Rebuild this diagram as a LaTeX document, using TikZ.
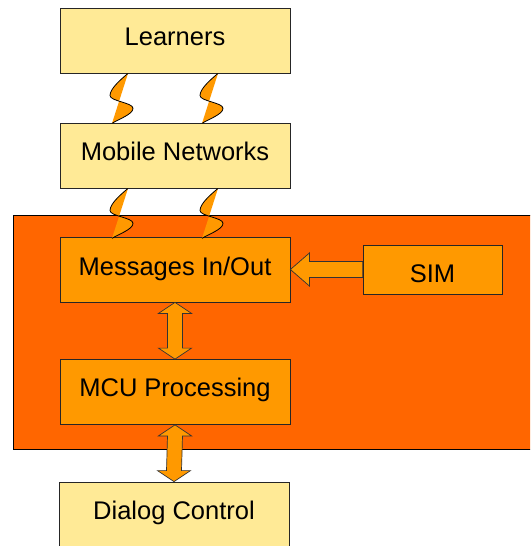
\documentclass[tikz,border=0pt]{standalone}
\usepackage{fontspec}
\setmainfont{Liberation Sans}
\usetikzlibrary{calc}

\definecolor{paleyellow}{HTML}{FFEA96}
\definecolor{deeporange}{HTML}{FF6600}
\definecolor{lightorange}{HTML}{FF9900}

\begin{document}
\begin{tikzpicture}[x=1pt,y=-1pt,
    box/.style={draw=black!85, line width=0.8pt, fill=paleyellow, minimum width=230pt,
      minimum height=65pt, inner sep=0pt, text height=18.5pt, text depth=9pt,
      font=\fontsize{25.5}{30}\selectfont},
    unit/.style={box, fill=lightorange},
    twoway/.style={draw=black!80, line width=0.7pt, fill=lightorange, line join=miter},
    bolt/.pic={
      \fill[lightorange] (0,0) .. controls (-6,5) and (-18,15) .. (-18,22)
        .. controls (-18,28) and (5,29) .. (5,35)
        .. controls (5,41) and (-10,46) .. (-16,50) -- cycle;
      \draw[line width=0.8pt] (0,0) .. controls (-6,5) and (-18,15) .. (-18,22)
        .. controls (-18,28) and (5,29) .. (5,35)
        .. controls (5,41) and (-10,46) .. (-16,50);
    }]
    \useasboundingbox (0,0) rectangle (530,546);
    \clip (0,0) rectangle (530,546);

    % Device
    \draw[line width=0.8pt, fill=deeporange] (13,215) rectangle (545,449);

    % Boxes
    \node[box] (learn) at (175,40.5) {Learners};
    \node[box] (mobile) at (175,155.5) {Mobile Networks};
    \node[unit, text depth=6pt] (msg) at (175,269.5) {Messages In/Out};
    \node[unit] (mcu) at (175,392) {MCU Processing};
    \node[unit, minimum width=139pt, minimum height=49pt, text height=25pt, text depth=0pt]
      (sim) at (432.5,269.5) {SIM};
    \node[box] (dialog) at (174,514.5) {Dialog Control};

    % Wireless links
    \path (learn.south) ++(-47,0) pic {bolt};
    \path (learn.south) ++(43,0) pic {bolt};
    \path (mobile.south) ++(-47,0) pic {bolt};
    \path (mobile.south) ++(43,0) pic {bolt};

    % Arrows
    \draw[twoway] (sim.west) ++(0,-8) -- ($(msg.east)+(19,-8)$) -- ++(0,-8.5)
      -- (msg.east) -- ++(19,16.5) -- ++(0,-8.5) -- ($(sim.west)+(0,8)$) -- cycle;
    \draw[twoway] (msg.south) -- ++(16.5,11) -- ++(-9,0) -- ($(mcu.north)+(7.5,-11)$)
      -- ++(9,0) -- (mcu.north) -- ++(-16.5,-11) -- ++(9,0)
      -- ($(msg.south)+(-7.5,11)$) -- ++(-9,0) -- cycle;
    \draw[twoway] (mcu.south) -- ++(16.5,11) -- ++(-9,0) -- ($(dialog.north)+(7.5,-11)$)
      -- ++(9,0) -- (dialog.north) -- ++(-16.5,-11) -- ++(9,0)
      -- ($(mcu.south)+(-7.5,11)$) -- ++(-9,0) -- cycle;

\end{tikzpicture}
\end{document}
